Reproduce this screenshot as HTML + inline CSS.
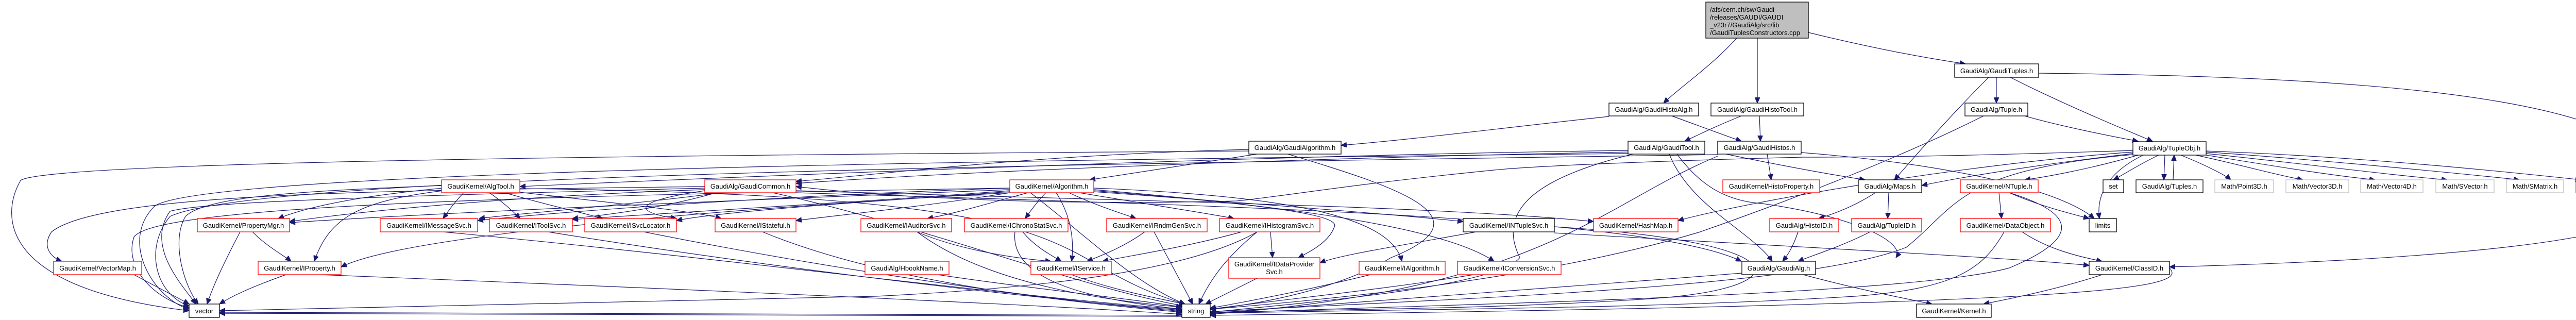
<!DOCTYPE html>
<html><head><meta charset="utf-8"><style>
html,body{margin:0;padding:0;background:#fff;}
svg{display:block;}
.n rect{fill:#fff;stroke:#000;stroke-width:1.3}
.r rect{stroke:#ff0000}
.g rect{stroke:#bfbfbf}
text{font-family:"Liberation Sans",sans-serif;font-size:13px;fill:#000}
.e{fill:none;stroke:#191970;stroke-width:1.2;marker-end:url(#a)}
</style></head><body>
<svg width="5186" height="621" viewBox="0 0 5186 621" xmlns="http://www.w3.org/2000/svg">
<defs><marker id="a" markerUnits="userSpaceOnUse" markerWidth="12" markerHeight="10" refX="11" refY="5" orient="auto"><path d="M0,0 L11,5 L0,10 z" fill="#191970" stroke="#191970"/></marker></defs>

<g>
<!-- top -->
<path class="e" d="M3371,74 C3320,130 3260,170 3229,200"/>
<path class="e" d="M3411,74 L3411,200"/>
<path class="e" d="M3510,63 C3620,90 3720,110 3815,124"/>
<path class="e" d="M3123,226 C2900,250 2750,270 2603,282"/>
<path class="e" d="M3245,225 C3300,245 3340,260 3380,274"/>
<path class="e" d="M3380,225 C3330,245 3300,260 3270,274"/>
<path class="e" d="M3415,225 L3417,274"/>
<path class="e" d="M3875,150 L3875,200"/>
<path class="e" d="M3902,150 C4000,200 4120,250 4178,274"/>
<path class="e" d="M3860,150 C3780,230 3720,300 3677,349"/>
<path class="e" d="M3957,142 C4700,150 5180,200 5180,380 C5180,470 4700,505 4211,518"/>
<path class="e" d="M3850,225 C3700,300 3500,380 3300,450 C3000,540 2600,580 2349,600"/>
<path class="e" d="M3930,225 C4000,245 4100,265 4150,274"/>
<!-- GaudiAlgorithm -->
<path class="e" d="M2440,299 C2300,320 2200,335 2115,349"/>
<path class="e" d="M2424,290 C2000,300 1700,340 1545,352"/>
<path class="e" d="M2424,293 C1500,300 100,310 40,350 C0,420 0,560 367,603"/>
<path class="e" d="M2500,299 C2700,360 2900,420 2700,500 C2600,560 2450,590 2349,600"/>
<!-- GaudiTool -->
<path class="e" d="M3160,292 C2500,300 1500,340 1009,362"/>
<path class="e" d="M3160,295 C2600,305 1900,330 1545,356"/>
<path class="e" d="M3240,299 C3280,400 3400,450 3440,507"/>
<path class="e" d="M3255,299 C3300,360 3350,390 3420,395 C3600,420 3700,470 3680,500"/>
<path class="e" d="M3160,298 C2000,310 400,330 300,400 C230,470 300,580 367,600"/>
<path class="e" d="M3170,299 C3000,340 2900,400 2950,500 C2900,560 2500,590 2349,606"/>
<!-- GaudiHistos -->
<path class="e" d="M3430,299 L3438,349"/>
<path class="e" d="M3350,299 C3450,320 3560,340 3620,349"/>
<path class="e" d="M3496,296 C3800,320 4000,370 4065,424"/>
<path class="e" d="M3334,300 C2000,320 500,340 330,420 C280,480 300,570 367,594"/>
<path class="e" d="M3334,303 C3100,400 3000,560 2349,610"/>
<!-- TupleObj -->
<path class="e" d="M4190,301 C4150,320 4120,340 4102,349"/>
<path class="e" d="M4202,301 L4200,349"/>
<path class="e" d="M4218,349 L4220,301"/>
<path class="e" d="M4233,301 C4280,320 4320,340 4330,349"/>
<path class="e" d="M4262,301 C4350,320 4420,340 4470,349"/>
<path class="e" d="M4282,301 C4400,320 4520,340 4610,349"/>
<path class="e" d="M4282,298 C4450,315 4640,340 4750,349"/>
<path class="e" d="M4282,295 C4500,310 4760,335 4890,349"/>
<path class="e" d="M4282,293 C4600,305 4880,335 5010,349"/>
<path class="e" d="M4150,301 C4050,330 3960,345 3930,349"/>
<path class="e" d="M4140,298 C3950,320 3800,345 3730,360"/>
<path class="e" d="M4160,301 C4080,340 4070,390 4075,424"/>
<path class="e" d="M4140,292 C3900,300 3700,305 3500,305 C3300,310 3000,320 2900,330 C2600,360 2500,380 2400,390 C2000,400 1700,380 1545,362"/>
<path class="e" d="M4140,295 C3800,320 3400,390 3257,428"/>
<path class="e" d="M4140,300 C3800,330 3800,400 3700,480 C3500,560 2800,580 2349,605"/>
<!-- NTuple etc -->
<path class="e" d="M3880,374 L3885,424"/>
<path class="e" d="M3900,374 C3960,400 4020,415 4055,424"/>
<path class="e" d="M3900,374 C4050,420 4020,470 3900,520 C3700,575 2800,590 2349,608"/>
<path class="e" d="M3640,374 C3600,400 3560,415 3530,424"/>
<path class="e" d="M3666,374 L3664,424"/>
<path class="e" d="M3490,450 C3480,480 3470,495 3460,507"/>
<path class="e" d="M3630,450 C3570,480 3520,495 3490,507"/>
<path class="e" d="M3925,450 C3970,480 4020,495 4080,507"/>
<path class="e" d="M3890,450 C3850,520 3800,560 3600,575 C3200,600 2700,600 2349,608"/>
<path class="e" d="M4080,533 C4000,560 3900,580 3850,590"/>
<path class="e" d="M3500,533 C3600,560 3700,580 3750,590"/>
<!-- AlgTool -->
<path class="e" d="M900,374 C880,395 870,410 860,424"/>
<path class="e" d="M950,374 C980,395 995,410 1010,424"/>
<path class="e" d="M980,374 C1050,395 1120,410 1170,424"/>
<path class="e" d="M1000,372 C1200,395 1350,410 1400,424"/>
<path class="e" d="M860,370 C700,390 640,420 610,507"/>
<path class="e" d="M860,365 C700,380 600,400 540,424"/>
<path class="e" d="M860,360 C600,370 400,380 360,420 C330,470 360,560 385,590"/>
<path class="e" d="M1009,366 C2200,380 2000,500 2300,590"/>
<!-- GaudiCommon -->
<path class="e" d="M1400,374 C1200,400 1000,415 930,424"/>
<path class="e" d="M1390,374 C1300,400 1200,415 1111,424"/>
<path class="e" d="M1368,370 C1200,395 1250,415 1313,424"/>
<path class="e" d="M1545,370 C2200,390 2800,400 3093,430"/>
<path class="e" d="M1368,365 C800,380 400,390 330,410 C280,480 360,560 380,590"/>
<path class="e" d="M1368,368 C1000,380 700,410 562,430"/>
<path class="e" d="M1545,374 C2400,400 3200,420 3380,507"/>
<path class="e" d="M1500,374 C1800,440 2100,560 2300,594"/>
<path class="e" d="M1368,362 C800,370 200,370 100,450 C80,480 100,500 120,507"/>
<!-- Algorithm -->
<path class="e" d="M1995,374 C1900,400 1850,415 1800,424"/>
<path class="e" d="M2030,374 C2010,395 2000,410 1990,424"/>
<path class="e" d="M2050,374 C2080,420 2085,470 2080,507"/>
<path class="e" d="M2075,374 C2130,400 2180,415 2205,424"/>
<path class="e" d="M2095,374 C2250,400 2350,415 2395,424"/>
<path class="e" d="M2123,370 C2500,400 2600,420 2590,440 C2580,470 2540,490 2520,500"/>
<path class="e" d="M2123,365 C2500,380 2700,420 2721,507"/>
<path class="e" d="M2123,368 C2500,400 2800,440 2900,507"/>
<path class="e" d="M2123,372 C2500,400 2750,420 2840,430"/>
<path class="e" d="M1960,368 C1400,390 900,410 562,432"/>
<path class="e" d="M1960,365 C1500,380 1100,410 927,428"/>
<path class="e" d="M1960,370 C1700,390 1350,410 1111,426"/>
<path class="e" d="M1960,372 C1700,390 1400,410 1313,428"/>
<path class="e" d="M1960,374 C1800,400 1650,415 1545,428"/>
<path class="e" d="M1960,374 C1500,400 800,450 662,518"/>
<path class="e" d="M1960,365 C1000,380 300,400 260,460 C240,520 300,580 367,597"/>
<path class="e" d="M2000,374 C2100,450 2200,550 2300,590"/>
<!-- L5 -->
<path class="e" d="M1780,450 C1850,480 1950,500 2040,507"/>
<path class="e" d="M1985,450 C2010,480 2040,495 2060,507"/>
<path class="e" d="M2222,450 C2180,480 2140,495 2110,507"/>
<path class="e" d="M2410,450 C2300,480 2200,495 2140,507"/>
<path class="e" d="M2466,450 L2470,500"/>
<path class="e" d="M2440,450 C2300,530 2000,560 1700,575 C1200,590 700,600 426,603"/>
<path class="e" d="M860,450 C1400,500 2000,580 2294,600"/>
<path class="e" d="M1064,450 C1500,520 2000,580 2294,602"/>
<path class="e" d="M1250,450 C1600,520 2000,580 2294,604"/>
<path class="e" d="M1480,450 C1700,540 2000,580 2294,606"/>
<path class="e" d="M1780,450 C1900,540 2100,580 2294,596"/>
<path class="e" d="M1970,450 C1960,540 2100,580 2294,600"/>
<path class="e" d="M2240,450 L2315,590"/>
<path class="e" d="M2440,450 C2380,500 2350,540 2327,590"/>
<path class="e" d="M2865,450 C2700,480 2600,495 2562,510"/>
<path class="e" d="M3017,452 C3500,480 3900,500 4055,515"/>
<path class="e" d="M3017,440 C3500,470 3500,560 3200,580 C2900,600 2600,600 2349,606"/>
<!-- L6 -->
<path class="e" d="M2080,533 C2150,560 2250,580 2300,590"/>
<path class="e" d="M2440,540 C2400,560 2370,575 2340,590"/>
<path class="e" d="M1820,533 C2000,560 2200,580 2294,596"/>
<path class="e" d="M2660,533 C2550,560 2450,580 2349,598"/>
<path class="e" d="M2860,533 C2700,560 2500,580 2349,600"/>
<path class="e" d="M3381,530 C3000,560 2600,590 2349,608"/>
<path class="e" d="M4211,520 C4250,560 4100,590 2349,612"/>
<path class="e" d="M620,533 C1300,560 2000,590 2294,610"/>
<path class="e" d="M260,533 C310,560 340,575 367,590"/>
<path class="e" d="M555,533 C480,560 450,575 426,590"/>
<path class="e" d="M466,450 C440,500 415,550 402,590"/>
<path class="e" d="M490,450 C520,480 550,495 565,507"/>
<path class="e" d="M2294,612 C1500,606 800,606 426,606"/>
<path class="e" d="M2294,614 C1500,612 800,610 426,608"/>
</g>

<!-- nodes -->
<g class="n">
<rect x="3311" y="4" width="199" height="70" style="fill:#bfbfbf"/>
<text x="3319" y="23">/afs/cern.ch/sw/Gaudi</text>
<text x="3319" y="38">/releases/GAUDI/GAUDI</text>
<text x="3319" y="53">_v23r7/GaudiAlg/src/lib</text>
<text x="3319" y="68">/GaudiTuplesConstructors.cpp</text>
</g>

<g class="n"><rect x="3794" y="124" width="163" height="26"/><text x="3875.5" y="142" text-anchor="middle">GaudiAlg/GaudiTuples.h</text></g>
<g class="n"><rect x="3123" y="200" width="174" height="25"/><text x="3210" y="217" text-anchor="middle">GaudiAlg/GaudiHistoAlg.h</text></g>
<g class="n"><rect x="3321" y="200" width="180" height="25"/><text x="3411" y="217" text-anchor="middle">GaudiAlg/GaudiHistoTool.h</text></g>
<g class="n"><rect x="3814" y="200" width="122" height="25"/><text x="3875" y="217" text-anchor="middle">GaudiAlg/Tuple.h</text></g>

<g class="n"><rect x="2424" y="274" width="179" height="25"/><text x="2513.5" y="291" text-anchor="middle">GaudiAlg/GaudiAlgorithm.h</text></g>
<g class="n"><rect x="3160" y="274" width="149" height="25"/><text x="3234.5" y="291" text-anchor="middle">GaudiAlg/GaudiTool.h</text></g>
<g class="n"><rect x="3334" y="274" width="162" height="25"/><text x="3415" y="291" text-anchor="middle">GaudiAlg/GaudiHistos.h</text></g>
<g class="n"><rect x="4140" y="275" width="142" height="26"/><text x="4211" y="292" text-anchor="middle">GaudiAlg/TupleObj.h</text></g>

<g class="n r"><rect x="857" y="349" width="152" height="25"/><text x="933" y="366" text-anchor="middle">GaudiKernel/AlgTool.h</text></g>
<g class="n r"><rect x="1368" y="349" width="177" height="25"/><text x="1456.5" y="366" text-anchor="middle">GaudiAlg/GaudiCommon.h</text></g>
<g class="n r"><rect x="1960" y="349" width="163" height="25"/><text x="2041.5" y="366" text-anchor="middle">GaudiKernel/Algorithm.h</text></g>
<g class="n r"><rect x="3344" y="349" width="188" height="25"/><text x="3438" y="366" text-anchor="middle">GaudiKernel/HistoProperty.h</text></g>
<g class="n"><rect x="3607" y="349" width="123" height="25"/><text x="3668.5" y="366" text-anchor="middle">GaudiAlg/Maps.h</text></g>
<g class="n r"><rect x="3805" y="349" width="151" height="25"/><text x="3880.5" y="366" text-anchor="middle">GaudiKernel/NTuple.h</text></g>
<g class="n"><rect x="4082" y="349" width="40" height="25"/><text x="4102" y="366" text-anchor="middle">set</text></g>
<g class="n"><rect x="4146" y="349" width="130" height="25"/><text x="4211" y="366" text-anchor="middle">GaudiAlg/Tuples.h</text></g>
<g class="n g"><rect x="4299" y="349" width="114" height="25"/><text x="4356" y="366" text-anchor="middle">Math/Point3D.h</text></g>
<g class="n g"><rect x="4437" y="349" width="122" height="25"/><text x="4498" y="366" text-anchor="middle">Math/Vector3D.h</text></g>
<g class="n g"><rect x="4582" y="349" width="121" height="25"/><text x="4642.5" y="366" text-anchor="middle">Math/Vector4D.h</text></g>
<g class="n g"><rect x="4728" y="349" width="113" height="25"/><text x="4784.5" y="366" text-anchor="middle">Math/SVector.h</text></g>
<g class="n g"><rect x="4865" y="349" width="111" height="25"/><text x="4920.5" y="366" text-anchor="middle">Math/SMatrix.h</text></g>
<g class="n r"><rect x="5000" y="349" width="143" height="25"/><text x="5071.5" y="366" text-anchor="middle">GaudiAlg/TuplePut.h</text></g>

<g class="n r"><rect x="383" y="424" width="179" height="26"/><text x="472.5" y="442" text-anchor="middle">GaudiKernel/PropertyMgr.h</text></g>
<g class="n r"><rect x="738" y="424" width="189" height="26"/><text x="832.5" y="442" text-anchor="middle">GaudiKernel/IMessageSvc.h</text></g>
<g class="n r"><rect x="950" y="424" width="161" height="26"/><text x="1030.5" y="442" text-anchor="middle">GaudiKernel/IToolSvc.h</text></g>
<g class="n r"><rect x="1135" y="424" width="178" height="26"/><text x="1224" y="442" text-anchor="middle">GaudiKernel/ISvcLocator.h</text></g>
<g class="n r"><rect x="1388" y="424" width="157" height="26"/><text x="1466.5" y="442" text-anchor="middle">GaudiKernel/IStateful.h</text></g>
<g class="n r"><rect x="1671" y="424" width="176" height="26"/><text x="1759" y="442" text-anchor="middle">GaudiKernel/IAuditorSvc.h</text></g>
<g class="n r"><rect x="1872" y="424" width="201" height="26"/><text x="1972.5" y="442" text-anchor="middle">GaudiKernel/IChronoStatSvc.h</text></g>
<g class="n r"><rect x="2148" y="424" width="195" height="26"/><text x="2245.5" y="442" text-anchor="middle">GaudiKernel/IRndmGenSvc.h</text></g>
<g class="n r"><rect x="2367" y="424" width="195" height="26"/><text x="2464.5" y="442" text-anchor="middle">GaudiKernel/IHistogramSvc.h</text></g>
<g class="n"><rect x="2840" y="424" width="177" height="26"/><text x="2928.5" y="442" text-anchor="middle">GaudiKernel/INTupleSvc.h</text></g>
<g class="n r"><rect x="3093" y="424" width="164" height="26"/><text x="3175" y="442" text-anchor="middle">GaudiKernel/HashMap.h</text></g>
<g class="n r"><rect x="3435" y="424" width="134" height="26"/><text x="3502" y="442" text-anchor="middle">GaudiAlg/HistoID.h</text></g>
<g class="n r"><rect x="3594" y="424" width="136" height="26"/><text x="3662" y="442" text-anchor="middle">GaudiAlg/TupleID.h</text></g>
<g class="n r"><rect x="3805" y="424" width="175" height="26"/><text x="3892.5" y="442" text-anchor="middle">GaudiKernel/DataObject.h</text></g>
<g class="n"><rect x="4055" y="424" width="53" height="26"/><text x="4081.5" y="442" text-anchor="middle">limits</text></g>

<g class="n r"><rect x="104" y="507" width="171" height="26"/><text x="189.5" y="525" text-anchor="middle">GaudiKernel/VectorMap.h</text></g>
<g class="n r"><rect x="501" y="507" width="161" height="26"/><text x="581.5" y="525" text-anchor="middle">GaudiKernel/IProperty.h</text></g>
<g class="n r"><rect x="1679" y="507" width="163" height="26"/><text x="1760.5" y="525" text-anchor="middle">GaudiAlg/HbookName.h</text></g>
<g class="n r"><rect x="2001" y="507" width="156" height="26"/><text x="2079" y="525" text-anchor="middle">GaudiKernel/IService.h</text></g>
<g class="n r"><rect x="2385" y="500" width="177" height="40"/><text x="2473.5" y="517" text-anchor="middle">GaudiKernel/IDataProvider</text><text x="2473.5" y="532" text-anchor="middle">Svc.h</text></g>
<g class="n r"><rect x="2638" y="507" width="167" height="26"/><text x="2721.5" y="525" text-anchor="middle">GaudiKernel/IAlgorithm.h</text></g>
<g class="n r"><rect x="2829" y="507" width="201" height="26"/><text x="2929.5" y="525" text-anchor="middle">GaudiKernel/IConversionSvc.h</text></g>
<g class="n"><rect x="3381" y="507" width="143" height="26"/><text x="3452.5" y="525" text-anchor="middle">GaudiAlg/GaudiAlg.h</text></g>
<g class="n"><rect x="4055" y="507" width="156" height="26"/><text x="4133" y="525" text-anchor="middle">GaudiKernel/ClassID.h</text></g>

<g class="n"><rect x="367" y="590" width="59" height="26"/><text x="396.5" y="608" text-anchor="middle">vector</text></g>
<g class="n"><rect x="2294" y="590" width="55" height="26"/><text x="2321.5" y="608" text-anchor="middle">string</text></g>
<g class="n"><rect x="3720" y="590" width="145" height="26"/><text x="3792.5" y="608" text-anchor="middle">GaudiKernel/Kernel.h</text></g>
</svg>
</body></html>
